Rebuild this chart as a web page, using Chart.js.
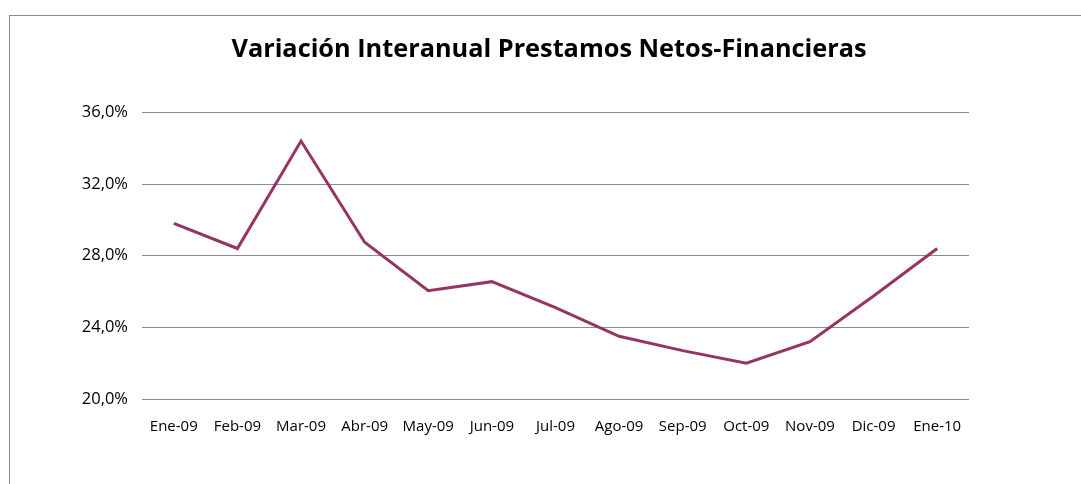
<!DOCTYPE html>
<html>
<head>
<meta charset="utf-8">
<script src="https://cdn.jsdelivr.net/npm/chart.js@4.4.1/dist/chart.umd.min.js"></script>
<style>
  html, body { margin: 0; padding: 0; background: #fff; }
  #wrap { position: relative; width: 1081px; height: 484px; overflow: hidden; }
  #frame { position: absolute; left: 9px; top: 15px; width: 1200px; height: 600px; border: 1px solid #8c8c8c; }
  #c { position: absolute; left: 0; top: 0; }
</style>
</head>
<body>
<div id="wrap">
  <div id="frame"></div>
  <canvas id="c" width="1081" height="484"></canvas>
</div>
<script>
const months = ['Ene-09', 'Feb-09', 'Mar-09', 'Abr-09', 'May-09', 'Jun-09', 'Jul-09',
  'Ago-09', 'Sep-09', 'Oct-09', 'Nov-09', 'Dic-09', 'Ene-10'];
const variacion = [29.8, 28.4, 34.4, 28.75, 26.05, 26.55, 25.1, 23.5, 22.7, 22.0, 23.2, 25.75, 28.4];
const yTicks = [20, 24, 28, 32, 36];

const font = "'Open Sans', sans-serif";

new Chart(document.getElementById('c'), {
  type: 'line',
  data: {
    labels: months,
    datasets: [{
      data: variacion,
      borderColor: '#953563',
      borderWidth: 3,
      pointRadius: 0,
      tension: 0,
      fill: false
    }]
  },
  options: {
    responsive: false,
    animation: false,
    layout: { padding: { left: 17, right: 0, top: 0, bottom: 0 } },
    plugins: {
      legend: { display: false },
      tooltip: { enabled: false },
      title: {
        display: true,
        text: 'Variación Interanual Prestamos Netos-Financieras',
        color: '#000',
        font: { family: font, size: 25.3, weight: 'bold' },
        padding: { top: 35, bottom: 47 }
      }
    },
    scales: {
      x: {
        offset: true,
        grid: { display: false, drawTicks: false },
        border: { display: false },
        ticks: { color: '#000', font: { family: font, size: 15 }, padding: 19, maxRotation: 0, autoSkip: false },
        afterFit: s => { s.height = 85; }
      },
      y: {
        min: 20,
        max: 36,
        afterBuildTicks: s => { s.ticks = yTicks.map(v => ({ value: v })); },
        grid: { color: '#8c8c8c', lineWidth: 1, drawTicks: false },
        border: { display: false },
        ticks: {
          color: '#000',
          font: { family: font, size: 16.5 },
          padding: 14,
          callback: v => v.toFixed(1).replace('.', ',') + '%'
        },
        afterFit: s => { s.width = 125; }
      },
      // empty right-hand space of the plot frame
      yRight: {
        position: 'right',
        grid: { display: false, drawTicks: false },
        border: { display: false },
        ticks: { display: false },
        afterFit: s => { s.width = 112; }
      }
    }
  }
});
</script>
</body>
</html>
